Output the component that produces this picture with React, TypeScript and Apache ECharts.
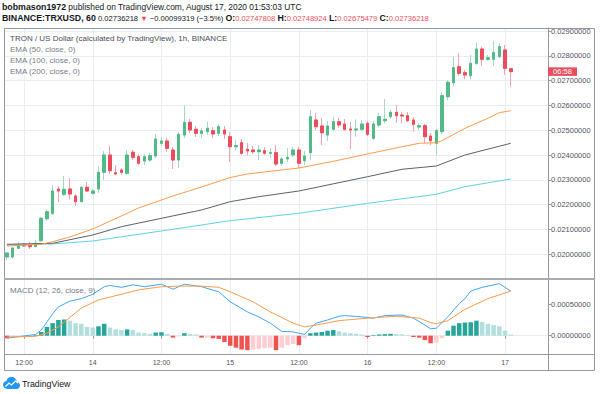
import React, { useEffect, useRef } from 'react';
import * as echarts from 'echarts';

const FONT = '"Liberation Sans", Arial, Helvetica, sans-serif';

// hourly slots from 2020-08-13 09:00 UTC; the last 6 slots are empty space right of the last bar
const START_UTC = Date.UTC(2020, 7, 13, 9);
const SLOT_COUNT = 95;
const categories: string[] = Array.from({ length: SLOT_COUNT }, (_, i) => {
  const d = new Date(START_UTC + i * 3600000);
  return `${d.getUTCDate()} ${String(d.getUTCHours()).padStart(2, '0')}:00`;
});

// [open, high, low, close]
const candles: [number, number, number, number][] = [
  [0.019888, 0.020089, 0.019767, 0.020049],
  [0.019888, 0.020291, 0.019807, 0.02025],
  [0.020238, 0.020493, 0.02021, 0.020372],
  [0.0204, 0.020452, 0.020291, 0.020331],
  [0.020372, 0.020493, 0.02021, 0.020304],
  [0.020304, 0.020573, 0.020291, 0.02044],
  [0.020546, 0.0215, 0.020493, 0.021447],
  [0.021432, 0.021823, 0.02134, 0.021714],
  [0.02165, 0.022791, 0.021581, 0.022549],
  [0.022629, 0.02275, 0.022105, 0.022549],
  [0.022416, 0.023154, 0.022347, 0.022618],
  [0.022629, 0.023073, 0.022186, 0.022428],
  [0.022347, 0.022428, 0.021944, 0.022117],
  [0.022117, 0.02275, 0.022105, 0.022697],
  [0.022697, 0.022912, 0.022508, 0.022549],
  [0.022456, 0.022629, 0.022388, 0.022549],
  [0.022629, 0.023557, 0.022468, 0.023303],
  [0.023303, 0.024162, 0.022992, 0.024],
  [0.024, 0.024363, 0.023234, 0.023367],
  [0.023286, 0.023597, 0.023194, 0.023234],
  [0.023396, 0.023476, 0.023194, 0.023303],
  [0.023262, 0.024202, 0.023194, 0.024],
  [0.024109, 0.024202, 0.023799, 0.023908],
  [0.023931, 0.024041, 0.023597, 0.023665],
  [0.023758, 0.024041, 0.023597, 0.023931],
  [0.023799, 0.024081, 0.023718, 0.023972],
  [0.02396, 0.024847, 0.023879, 0.024645],
  [0.024472, 0.024726, 0.024363, 0.024565],
  [0.024565, 0.024686, 0.024121, 0.02427],
  [0.024202, 0.024323, 0.023436, 0.023799],
  [0.023799, 0.024928, 0.023476, 0.024835],
  [0.024807, 0.025976, 0.024686, 0.025319],
  [0.025319, 0.025452, 0.024887, 0.025008],
  [0.025037, 0.02517, 0.024726, 0.024875],
  [0.024875, 0.025089, 0.024686, 0.024968],
  [0.02494, 0.025331, 0.024807, 0.025077],
  [0.02498, 0.025129, 0.024686, 0.024847],
  [0.024875, 0.02525, 0.024766, 0.025142],
  [0.025008, 0.02517, 0.024645, 0.024847],
  [0.024738, 0.024928, 0.023718, 0.024335],
  [0.024335, 0.024605, 0.024202, 0.024375],
  [0.024496, 0.024645, 0.024, 0.024069],
  [0.02423, 0.024484, 0.024, 0.024162],
  [0.024202, 0.024363, 0.024041, 0.024133],
  [0.024133, 0.024404, 0.023799, 0.024202],
  [0.024174, 0.024323, 0.024, 0.024069],
  [0.024069, 0.024282, 0.023879, 0.024093],
  [0.024093, 0.024404, 0.023557, 0.023637],
  [0.023665, 0.02392, 0.023557, 0.023839],
  [0.023839, 0.024282, 0.023718, 0.023907],
  [0.024, 0.024323, 0.02392, 0.024202],
  [0.024202, 0.024323, 0.023476, 0.023665],
  [0.023771, 0.024162, 0.023597, 0.02396],
  [0.024093, 0.025815, 0.023799, 0.025544],
  [0.025412, 0.025694, 0.025008, 0.025141],
  [0.02517, 0.025492, 0.024404, 0.024899],
  [0.024807, 0.025371, 0.024565, 0.02517],
  [0.025037, 0.025532, 0.024968, 0.025343],
  [0.025343, 0.025492, 0.025089, 0.02521],
  [0.02525, 0.025452, 0.024968, 0.025037],
  [0.025049, 0.025331, 0.024242, 0.025008],
  [0.025008, 0.02544, 0.024738, 0.025049],
  [0.025037, 0.025412, 0.024968, 0.02525],
  [0.025278, 0.025371, 0.024766, 0.024835],
  [0.024674, 0.025371, 0.024605, 0.02525],
  [0.02521, 0.025694, 0.025129, 0.025545],
  [0.025383, 0.026258, 0.025278, 0.02544],
  [0.025545, 0.025815, 0.025452, 0.025722],
  [0.025722, 0.026016, 0.02529, 0.025585],
  [0.025613, 0.025746, 0.025278, 0.025573],
  [0.025585, 0.025734, 0.025331, 0.025383],
  [0.025412, 0.025532, 0.02494, 0.025238],
  [0.025129, 0.025278, 0.025008, 0.025182],
  [0.025182, 0.02525, 0.024472, 0.024738],
  [0.024766, 0.024887, 0.024404, 0.024577],
  [0.024472, 0.025049, 0.024, 0.02498],
  [0.02494, 0.02654, 0.024847, 0.026391],
  [0.026351, 0.027024, 0.026218, 0.026932],
  [0.026915, 0.027964, 0.026782, 0.02752],
  [0.027561, 0.028113, 0.027186, 0.027294],
  [0.027319, 0.027428, 0.027052, 0.027226],
  [0.027198, 0.028032, 0.027052, 0.027698],
  [0.027698, 0.028544, 0.027629, 0.028274],
  [0.028274, 0.028367, 0.027589, 0.027859],
  [0.027859, 0.028032, 0.027803, 0.027923],
  [0.027859, 0.028597, 0.027589, 0.028125],
  [0.027964, 0.028504, 0.027911, 0.028367],
  [0.028234, 0.028435, 0.027226, 0.027496],
  [0.02747808, 0.02748924, 0.02675479, 0.02736218],
];

// EMA readings: [slot index, value]
const ema50: [number, number][] = [
  [0, 0.020331], [6, 0.0204], [8, 0.020505], [11, 0.020694], [15, 0.021017], [20, 0.021541],
  [23, 0.021863], [27, 0.022186], [29, 0.022347], [34, 0.02271], [39, 0.023093], [42, 0.023234],
  [48, 0.023396], [51, 0.023476], [57, 0.023746], [63, 0.024041], [69, 0.024335], [72, 0.024472],
  [75, 0.024496], [76, 0.024577], [80, 0.025077], [84, 0.02548], [86, 0.025706], [88, 0.025786],
];
const ema100: [number, number][] = [
  [0, 0.0204], [8, 0.02044], [15, 0.020775], [20, 0.021109], [27, 0.021448], [34, 0.021783],
  [39, 0.022117], [44, 0.022319], [51, 0.022549], [63, 0.023125], [69, 0.023424], [75, 0.023557],
  [80, 0.024], [88, 0.024472],
];
const ema200: [number, number][] = [
  [0, 0.020372], [8, 0.020412], [15, 0.020533], [27, 0.020936], [39, 0.021351], [51, 0.02165],
  [63, 0.022053], [75, 0.022416], [80, 0.022722], [88, 0.023033],
];

// MACD (12, 26, close, 9)
const macdLine: [number, number][] = [
  [0, -0.00004], [5, 0.00002], [6, 0.00009], [8, 0.00035], [9, 0.00046], [11, 0.00055], [13, 0.00059],
  [15, 0.00066], [17, 0.00078], [18, 0.0008], [20, 0.00077], [22, 0.00081], [24, 0.00078], [27, 0.00082],
  [29, 0.00074], [31, 0.00082], [34, 0.00078], [37, 0.0007], [39, 0.00054], [42, 0.00038], [44, 0.0003],
  [46, 0.0002], [48, 0.00007], [50, 0.00006], [52, 0.00002], [53, 0.00012], [54, 0.0002], [56, 0.00025],
  [58, 0.00031], [59, 0.00032], [62, 0.0003], [64, 0.00028], [66, 0.00032], [69, 0.00033], [71, 0.00028],
  [73, 0.00017], [74, 0.00011], [75, 0.00012], [77, 0.0003], [79, 0.00051], [80, 0.00059], [81, 0.00071],
  [83, 0.00077], [86, 0.00083], [88, 0.00071],
];
const signalLine: [number, number][] = [
  [0, -0.00002], [5, -0.00001], [7, 0.00004], [9, 0.00014], [13, 0.00044], [16, 0.00057], [20, 0.00066],
  [23, 0.00073], [27, 0.00078], [30, 0.00079], [34, 0.00079], [37, 0.00077], [39, 0.0007], [43, 0.00054],
  [46, 0.00038], [50, 0.0002], [52, 0.00014], [54, 0.00017], [58, 0.00024], [63, 0.00028], [68, 0.00031],
  [72, 0.00028], [74, 0.00021], [75, 0.00019], [77, 0.00024], [80, 0.00042], [84, 0.00059], [88, 0.00071],
];
const histogram: number[] = [
  -0.00004, -0.00002, -0.00001, -0.00001, -0.000005, 0.00001, 0.00006, 0.00014, 0.0002, 0.00025,
  0.00026, 0.00024, 0.0002, 0.00019, 0.00014, 0.00013, 0.00015, 0.00019, 0.00013, 0.0001,
  0.00009, 0.0001, 0.00009, 0.00005, 0.00004, 0.00003, 0.00005, 0.000055, 0.00003, -0.00003,
  -0.00001, 0.00004, 0.00003, 0.00002, -0.00003, -0.00003, -0.00004, -0.00005, -0.0001, -0.00016,
  -0.00019, -0.00022, -0.00023, -0.00022, -0.00021, -0.0002, -0.00019, -0.00023, -0.00019, -0.00015,
  -0.00013, -0.00015, -0.00004, 0.00004, 0.00005, 0.00006, 0.00008, 0.00009, 0.00007, 0.00005,
  0.00004, 0.00003, 0.00002, -0.00002, 0.00001, 0.00002, 0.000025, 0.00003, 0.000027, 0.000022,
  0.00001, -0.00002, -0.00003, -0.00007, -0.00012, -0.00011, -0.00004, 0.00008, 0.00016, 0.0002,
  0.00021, 0.000215, 0.00024, 0.00022, 0.00019, 0.00017, 0.00015, 0.00008, 0.00002,
];

const priceTicks = { min: 0.019, max: 0.029121, step: 0.001 };
const macdRange = { min: -0.000291, max: 0.000903 };
const macdTicks = [0, 0.0005];
const priceChange = '−0.00099319 (−3.5%)';
const countdown = '06:58';

const UP = '#53b987';
const DOWN = '#eb4d5c';
const WICK_UP = '#a6d9c0';
const WICK_DOWN = '#f5a3ab';
const GRID = '#e8edf2';
const AXIS = '#9598a1';
const LABEL = '#50535e';
const GRID_RIGHT = 52;

echarts.graphic.registerShape(
  'tvCloud',
  echarts.graphic.extendPath(
    'M5 14C2.2 14 0 11.8 0 9.2C0 6.9 1.7 5 3.9 4.6C4.7 1.9 7.1 0 10 0C13.2 0 15.9 2.5 16.2 5.6C18.4 5.9 20 7.8 20 10C20 12.2 18.2 14 16 14Z',
    {}
  )
);

const isMajor = (index: number) => {
  const c = categories[index];
  if (!c) return false;
  const hm = c.split(' ')[1];
  return hm === '00:00' || hm === '12:00';
};
const tickText = (value: string) => {
  const [day, hm] = value.split(' ');
  return hm === '00:00' ? day : hm;
};

const f8 = (v: number) => v.toFixed(8);

function buildOption() {
  const last = candles[candles.length - 1];
  const histColors = histogram.map((v, i) => {
    const prev = i > 0 ? histogram[i - 1] : 0;
    if (v >= 0) return v > prev ? '#26a69a' : '#b2dfdb';
    return v < prev ? '#ef5350' : '#ffcdd2';
  });

  const legendBase = { fontFamily: FONT, fontSize: 8, fill: '#787b86' };
  const boldRich = { fontWeight: 'bold', fontFamily: FONT, fontSize: 8.8, fill: '#131722' };

  return {
    animation: false,
    backgroundColor: '#ffffff',
    textStyle: { fontFamily: FONT },
    grid: [
      { left: 4, right: GRID_RIGHT, top: 28, height: 251 },
      { left: 4, right: GRID_RIGHT, top: 279, height: 75 },
    ],
    xAxis: [
      {
        type: 'category', gridIndex: 0, data: categories, boundaryGap: true,
        axisLine: { show: false }, axisTick: { show: false }, axisLabel: { show: false },
        splitLine: { show: true, interval: isMajor, alignWithLabel: true, lineStyle: { color: GRID, width: 1 } },
      },
      {
        type: 'category', gridIndex: 1, data: categories, boundaryGap: true,
        axisLine: { show: false },
        axisTick: { show: true, alignWithLabel: true, interval: isMajor, length: 3, lineStyle: { color: AXIS } },
        axisLabel: { interval: isMajor, formatter: tickText, fontSize: 7, color: LABEL, margin: 5, fontFamily: FONT },
        splitLine: { show: true, interval: isMajor, alignWithLabel: true, lineStyle: { color: GRID, width: 1 } },
      },
    ],
    yAxis: [
      {
        type: 'value', gridIndex: 0, position: 'right',
        min: priceTicks.min, max: priceTicks.max, interval: priceTicks.step,
        axisLine: { show: true, lineStyle: { color: AXIS } },
        axisTick: { show: true, length: 3, lineStyle: { color: AXIS } },
        axisLabel: { formatter: f8, fontSize: 7.5, color: LABEL, margin: 3, fontFamily: FONT, showMaxLabel: false, showMinLabel: false },
        splitLine: { show: true, lineStyle: { color: GRID, width: 1 } },
      },
      {
        type: 'value', gridIndex: 1, position: 'right',
        min: macdRange.min, max: macdRange.max,
        axisLine: { show: true, lineStyle: { color: AXIS } },
        axisTick: { show: true, length: 3, customValues: macdTicks, lineStyle: { color: AXIS } },
        axisLabel: { customValues: macdTicks, formatter: f8, fontSize: 7.5, color: LABEL, margin: 3, fontFamily: FONT },
        splitLine: { show: false },
      },
    ],
    series: [
      {
        name: 'wicks', type: 'candlestick', xAxisIndex: 0, yAxisIndex: 0, barWidth: 3, z: 2,
        data: candles.map(([o, h, l, c]) => [o, c, l, h]),
        itemStyle: { color: WICK_UP, color0: WICK_DOWN, borderColor: WICK_UP, borderColor0: WICK_DOWN, borderWidth: 1 },
      },
      {
        name: 'bodies', type: 'candlestick', xAxisIndex: 0, yAxisIndex: 0, barWidth: 3, z: 3,
        data: candles.map(([o, , , c]) => [o, c, Math.min(o, c), Math.max(o, c)]),
        itemStyle: { color: UP, color0: DOWN, borderColor: UP, borderColor0: DOWN, borderWidth: 1 },
      },
      { name: 'EMA200', type: 'line', xAxisIndex: 0, yAxisIndex: 0, data: ema200, showSymbol: false, z: 4,
        lineStyle: { color: '#5fd3e0', width: 1 } },
      { name: 'EMA100', type: 'line', xAxisIndex: 0, yAxisIndex: 0, data: ema100, showSymbol: false, z: 4,
        lineStyle: { color: '#5d606b', width: 1 } },
      { name: 'EMA50', type: 'line', xAxisIndex: 0, yAxisIndex: 0, data: ema50, showSymbol: false, z: 4,
        lineStyle: { color: '#ff9a4a', width: 1 } },
      {
        name: 'Histogram', type: 'bar', xAxisIndex: 1, yAxisIndex: 1, barWidth: 4.5, z: 2,
        data: histogram.map((v, i) => ({ value: v, itemStyle: { color: histColors[i] } })),
        markLine: {
          silent: true, symbol: ['none', 'none'], z: 1,
          lineStyle: { color: GRID, type: 'solid', width: 1 },
          label: { show: false },
          data: macdTicks.map((v) => ({ yAxis: v })),
        },
      },
      { name: 'MACD', type: 'line', xAxisIndex: 1, yAxisIndex: 1, data: macdLine, showSymbol: false, z: 4,
        lineStyle: { color: '#42a5f5', width: 1 } },
      { name: 'Signal', type: 'line', xAxisIndex: 1, yAxisIndex: 1, data: signalLine, showSymbol: false, z: 4,
        lineStyle: { color: '#ff9a4a', width: 1 } },
    ],
    graphic: [
      {
        type: 'text', x: 2, y: 7, z: 10,
        style: {
          fontFamily: FONT, fontSize: 8.4, fill: '#131722', verticalAlign: 'middle', align: 'left',
          text: '{b|bobmason1972} published on TradingView.com, August 17, 2020 01:53:03 UTC',
          rich: { b: boldRich },
        },
      },
      {
        type: 'text', x: 2, y: 18, z: 10,
        style: {
          fontFamily: FONT, fontSize: 7.6, fill: '#131722', verticalAlign: 'middle', align: 'left',
          text: `{b|BINANCE:TRXUSD, 60} ${f8(last[3])} {r|▼} ${priceChange} {b|O:}{r|${f8(last[0])}} {b|H:}{r|${f8(last[1])}} {b|L:}{r|${f8(last[2])}} {b|C:}{r|${f8(last[3])}}`,
          rich: {
            b: boldRich,
            r: { fontFamily: FONT, fontSize: 7.6, fill: DOWN },
          },
        },
      },
      { type: 'text', x: 10, y: 38.5, z: 10, style: { ...legendBase, fill: '#4a4d57', verticalAlign: 'middle', text: 'TRON / US Dollar (calculated by TradingView), 1h, BINANCE' } },
      { type: 'text', x: 10, y: 49.5, z: 10, style: { ...legendBase, verticalAlign: 'middle', text: 'EMA (50, close, 0)' } },
      { type: 'text', x: 10, y: 60.5, z: 10, style: { ...legendBase, verticalAlign: 'middle', text: 'EMA (100, close, 0)' } },
      { type: 'text', x: 10, y: 71.5, z: 10, style: { ...legendBase, verticalAlign: 'middle', text: 'EMA (200, close, 0)' } },
      { type: 'text', x: 10, y: 290.5, z: 10, style: { ...legendBase, verticalAlign: 'middle', text: 'MACD (12, 26, close, 9)' } },
      // frame
      { type: 'rect', z: 20, shape: { x: 4.5, y: 28.5, width: 590, height: 342 }, style: { fill: 'none', stroke: AXIS, lineWidth: 1 } },
      { type: 'line', z: 20, shape: { x1: 4, y1: 279, x2: 595, y2: 279 }, style: { stroke: '#a9acb5', lineWidth: 2 } },
      { type: 'line', z: 20, shape: { x1: 4, y1: 354.5, x2: 595, y2: 354.5 }, style: { stroke: AXIS, lineWidth: 1 } },
      { type: 'line', z: 20, shape: { x1: 548.5, y1: 354, x2: 548.5, y2: 371 }, style: { stroke: AXIS, lineWidth: 1 } },
      // price tag (positioned after the first render from the y axis scale)
      { id: 'tagRect', type: 'rect', z: 30, shape: { x: 600 - GRID_RIGHT, y: -50, width: 29, height: 8.5 }, style: { fill: DOWN } },
      { id: 'tagText', type: 'text', z: 31, x: 600 - GRID_RIGHT + 14.5, y: -50, style: { text: countdown, fill: '#ffffff', fontFamily: FONT, fontSize: 7.5, align: 'center', verticalAlign: 'middle' } },
      // logo
      { type: 'tvCloud', x: 3, y: 377, scaleX: 0.85, scaleY: 0.85, z: 10, style: { fill: '#2196f3' } },
      { type: 'polyline', z: 11, shape: { points: [[5.5, 386.5], [9, 383], [11.5, 385], [15.5, 381], [18, 383]] }, style: { stroke: '#ffffff', lineWidth: 1.3, fill: 'none' } },
      { type: 'text', x: 22, y: 383.5, z: 10, style: { fontFamily: FONT, fontSize: 8.8, fill: '#131722', verticalAlign: 'middle', text: 'TradingView' } },
    ],
  };
}

export default function App() {
  const ref = useRef<HTMLDivElement>(null);
  useEffect(() => {
    if (!ref.current) return;
    const chart = echarts.init(ref.current, null, { renderer: 'svg' });
    chart.setOption(buildOption() as any);
    const lastClose = candles[candles.length - 1][3];
    const y = chart.convertToPixel({ yAxisIndex: 0 } as any, lastClose) as number;
    chart.setOption({
      graphic: [
        { id: 'tagRect', shape: { y: y - 4.25 } },
        { id: 'tagText', y },
      ],
    } as any);
    return () => chart.dispose();
  }, []);
  return <div ref={ref} style={{ position: 'fixed', left: 0, top: 0, width: 600, height: 394 }} />;
}
